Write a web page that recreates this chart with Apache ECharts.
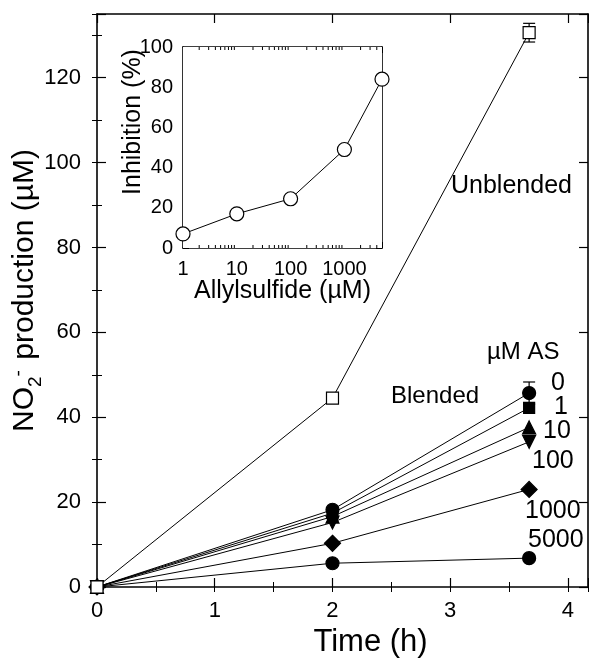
<!DOCTYPE html>
<html><head><meta charset="utf-8">
<script src="https://cdn.jsdelivr.net/npm/echarts@6/dist/echarts.min.js"></script>
<style>html,body{margin:0;padding:0;background:#fff}#c{width:589px;height:662px}</style>
</head><body><div id="c"></div>
<script>
// ---- data ----
const timeH = [0, 2, 3.67];
const unblended = [0, 44.5, 130.6];
const unblendedErr = [0, 0, 2.2];
const blended0 = [0, 18.2, 45.7];
const blended0Err = [0, 0, 2.6];
const blended1 = [0, 17.4, 42.2];
const blended10 = [0, 16.6, 37.6];
const blended100 = [0, 15.2, 34.2];
const blended1000 = [0, 10.3, 23.0];
const blended5000 = [0, 5.6, 6.8];
const asConc = [1, 10, 100, 1000, 5000];
const inhibition = [7, 17, 24.5, 49, 84];
const asLabels = ['0', '1', '10', '100', '1000', '5000'];
const mainYTicks = [0, 20, 40, 60, 80, 100, 120];
const mainXTicks = [0, 1, 2, 3, 4];
const insetXTicks = [1, 10, 100, 1000];
const insetMinorTicks = [2, 3, 4, 5, 6, 7, 8, 9, 20, 30, 40, 50, 60, 70, 80, 90,
  200, 300, 400, 500, 600, 700, 800, 900, 2000, 3000, 4000];

const FONT = '"Liberation Sans", Arial, Helvetica, sans-serif';
const chart = echarts.init(document.getElementById('c'), null, {renderer: 'canvas'});

function pair(t, ys) { return t.map((x, i) => [x, ys[i]]); }
function errData(t, ys, es) {
  return t.map((x, i) => [x, ys[i] - es[i], ys[i] + es[i]]).filter((d, i) => es[i] > 0);
}
const lineW = 1.6;
function ax(o) {
  return Object.assign({
    type: 'value', splitLine: {show: false}, nameMoveOverlap: false,
    axisLine: {show: true, onZero: false, lineStyle: {color: '#000', width: lineW}},
    axisTick: {show: true, inside: true, length: 9, lineStyle: {color: '#000', width: 1.2}},
    axisLabel: {show: false}
  }, o);
}
const minorTick = (len) => ({show: true, inside: true, length: len, lineStyle: {color: '#000', width: 1}});

const xAxes = [
  ax({gridIndex: 0, position: 'bottom', min: 0, max: 4.17, interval: 1,
      axisLabel: {show: true, color: '#000', fontFamily: FONT, fontSize: 22, margin: 13,
        formatter: v => mainXTicks.includes(v) ? String(v) : ''},
      name: 'Time (h)', nameLocation: 'middle', nameGap: 40,
      nameTextStyle: {color: '#000', fontFamily: FONT, fontSize: 31, padding: [0, 0, 0, 56]}}),
  ax({gridIndex: 0, position: 'bottom', min: 0, max: 4.17, interval: 0.5,
      axisLine: {show: false}, axisTick: minorTick(5)}),
  ax({gridIndex: 0, position: 'top', min: 0, max: 4.17, interval: 1}),
  ax({gridIndex: 0, position: 'top', min: 0, max: 4.17, interval: 0.5,
      axisLine: {show: false}, axisTick: minorTick(5)}),
  ax({gridIndex: 1, type: 'log', logBase: 10, position: 'bottom', min: 1, max: 5000,
      axisTick: minorTick(6),
      axisLabel: {show: true, color: '#000', fontFamily: FONT, fontSize: 20, margin: 11,
        formatter: v => { const r = Math.round(v); return insetXTicks.includes(r) ? String(r) : ''; }},
      name: 'Allylsulfide (\u00b5M)', nameLocation: 'middle', nameGap: 31,
      nameTextStyle: {color: '#000', fontFamily: FONT, fontSize: 25}}),
  ax({gridIndex: 1, type: 'log', logBase: 10, position: 'top', min: 1, max: 5000,
      axisTick: minorTick(6)})
];
const yAxes = [
  ax({gridIndex: 0, position: 'left', min: 0, max: 135, interval: 20,
      axisLabel: {show: true, color: '#000', fontFamily: FONT, fontSize: 22, margin: 16,
        formatter: v => mainYTicks.includes(v) ? String(v) : ''},
      name: '{a|NO}{sub|2}{sup|-}{a| production (\u00b5M)}', nameLocation: 'middle', nameGap: 52,
      nameTextStyle: {color: '#000', fontFamily: FONT, fontSize: 30, padding: [0, 0, 0, 20],
        rich: {a: {fontFamily: FONT, fontSize: 30, lineHeight: 40, verticalAlign: 'middle'},
               sub: {fontFamily: FONT, fontSize: 19, lineHeight: 40, verticalAlign: 'bottom'},
               sup: {fontFamily: FONT, fontSize: 19, lineHeight: 40, verticalAlign: 'top', padding: [4, 2, 0, 0]}}}}),
  ax({gridIndex: 0, position: 'left', min: 0, max: 135, interval: 10,
      axisLine: {show: false}, axisTick: minorTick(5)}),
  ax({gridIndex: 0, position: 'right', min: 0, max: 135, interval: 20}),
  ax({gridIndex: 0, position: 'right', min: 0, max: 135, interval: 10,
      axisLine: {show: false}, axisTick: minorTick(5)}),
  ax({gridIndex: 1, position: 'left', min: 0, max: 100, interval: 20,
      axisTick: minorTick(6),
      axisLabel: {show: true, color: '#000', fontFamily: FONT, fontSize: 20, margin: 10}}),
  ax({gridIndex: 1, position: 'left', min: 0, max: 100, interval: 10,
      axisLine: {show: false}, axisTick: minorTick(3)}),
  ax({gridIndex: 1, position: 'right', min: 0, max: 100, interval: 20, axisTick: minorTick(6)}),
  ax({gridIndex: 1, position: 'right', min: 0, max: 100, interval: 10,
      axisLine: {show: false}, axisTick: minorTick(3)})
];

function lineSeries(name, ys, symbol, size, filled, extra) {
  return Object.assign({
    type: 'line', name: name, xAxisIndex: 0, yAxisIndex: 0, data: pair(timeH, ys),
    symbol: symbol, symbolSize: size, showAllSymbol: true,
    lineStyle: {color: '#000', width: 1},
    itemStyle: {color: filled ? '#000' : '#fff', borderColor: '#000', borderWidth: 1.2, opacity: 1},
    emphasis: {disabled: true}, animation: false, z: 3
  }, extra || {});
}
const errSeries = (data) => ({
  type: 'custom', xAxisIndex: 0, yAxisIndex: 0, data: data, z: 2, animation: false,
  renderItem: function (params, api) {
    const x = api.value(0);
    const lo = api.coord([x, api.value(1)]);
    const hi = api.coord([x, api.value(2)]);
    const cw = 6;
    const st = {stroke: '#000', lineWidth: 1.2};
    return {type: 'group', children: [
      {type: 'line', shape: {x1: lo[0], y1: lo[1], x2: hi[0], y2: hi[1]}, style: st},
      {type: 'line', shape: {x1: hi[0] - cw, y1: hi[1], x2: hi[0] + cw, y2: hi[1]}, style: st},
      {type: 'line', shape: {x1: lo[0] - cw, y1: lo[1], x2: lo[0] + cw, y2: lo[1]}, style: st}
    ]};
  }
});
// log-axis minor ticks for the inset (top and bottom edges)
const insetMinorSeries = {
  type: 'custom', xAxisIndex: 4, yAxisIndex: 4, clip: false, animation: false, silent: true, z: 4,
  data: insetMinorTicks.map(v => [v]),
  renderItem: function (params, api) {
    const b = api.coord([api.value(0), 0]);
    const t = api.coord([api.value(0), 100]);
    const st = {stroke: '#000', lineWidth: 1};
    return {type: 'group', children: [
      {type: 'line', shape: {x1: b[0], y1: b[1], x2: b[0], y2: b[1] - 3}, style: st},
      {type: 'line', shape: {x1: t[0], y1: t[1], x2: t[0], y2: t[1] + 3}, style: st}
    ]};
  }
};

const series = [
  errSeries(errData(timeH, unblended, unblendedErr)),
  errSeries(errData(timeH, blended0, blended0Err)),
  lineSeries('5000', blended5000, 'circle', 13, true),
  lineSeries('1000', blended1000, 'diamond', 16, true),
  lineSeries('100', blended100, 'triangle', 13, true, {symbolRotate: 180}),
  lineSeries('10', blended10, 'triangle', 13, true),
  lineSeries('1', blended1, 'rect', 11, true),
  lineSeries('0', blended0, 'circle', 13, true),
  lineSeries('Unblended', unblended, 'rect', 12, false, {z: 5}),
  {type: 'line', xAxisIndex: 4, yAxisIndex: 4, data: pair(asConc, inhibition),
   symbol: 'circle', symbolSize: 14, showAllSymbol: true, animation: false, clip: false,
   lineStyle: {color: '#000', width: 1},
   itemStyle: {color: '#fff', borderColor: '#000', borderWidth: 1.2},
   emphasis: {disabled: true}, z: 3},
  insetMinorSeries
];

function txt(s, x, y, size, align) {
  return {type: 'text', z: 10, style: {text: s, x: x, y: y, font: size + 'px ' + FONT,
    fill: '#000', textAlign: align || 'left', textVerticalAlign: 'middle'}};
}
const graphics = [
  {type: 'text', z: 10, rotation: Math.PI / 2, x: 133, y: 122,
   style: {text: 'Inhibition (%)', x: 0, y: 0, font: '25px ' + FONT, fill: '#000',
           textAlign: 'center', textVerticalAlign: 'middle'}},
  txt('Unblended', 451, 186, 25),
  txt('\u00b5M AS', 487, 352, 24),
  txt('Blended', 391, 396, 24),
  txt(asLabels[0], 551, 383, 25),
  txt(asLabels[1], 554, 407, 25),
  txt(asLabels[2], 543, 431, 25),
  txt(asLabels[3], 532, 461, 25),
  txt(asLabels[4], 525, 511, 25),
  txt(asLabels[5], 528, 540, 25)
];

chart.setOption({
  backgroundColor: '#fff',
  animation: false,
  grid: [
    {left: 97, top: 14, right: 1, bottom: 75, outerBoundsMode: 'none', containLabel: false},
    {left: 183, top: 47, width: 199, height: 201, outerBoundsMode: 'none', containLabel: false,
     show: true, backgroundColor: '#fff', borderWidth: 0, z: 1}
  ],
  xAxis: xAxes,
  yAxis: yAxes,
  series: series,
  graphic: graphics
});
</script>
</body></html>
